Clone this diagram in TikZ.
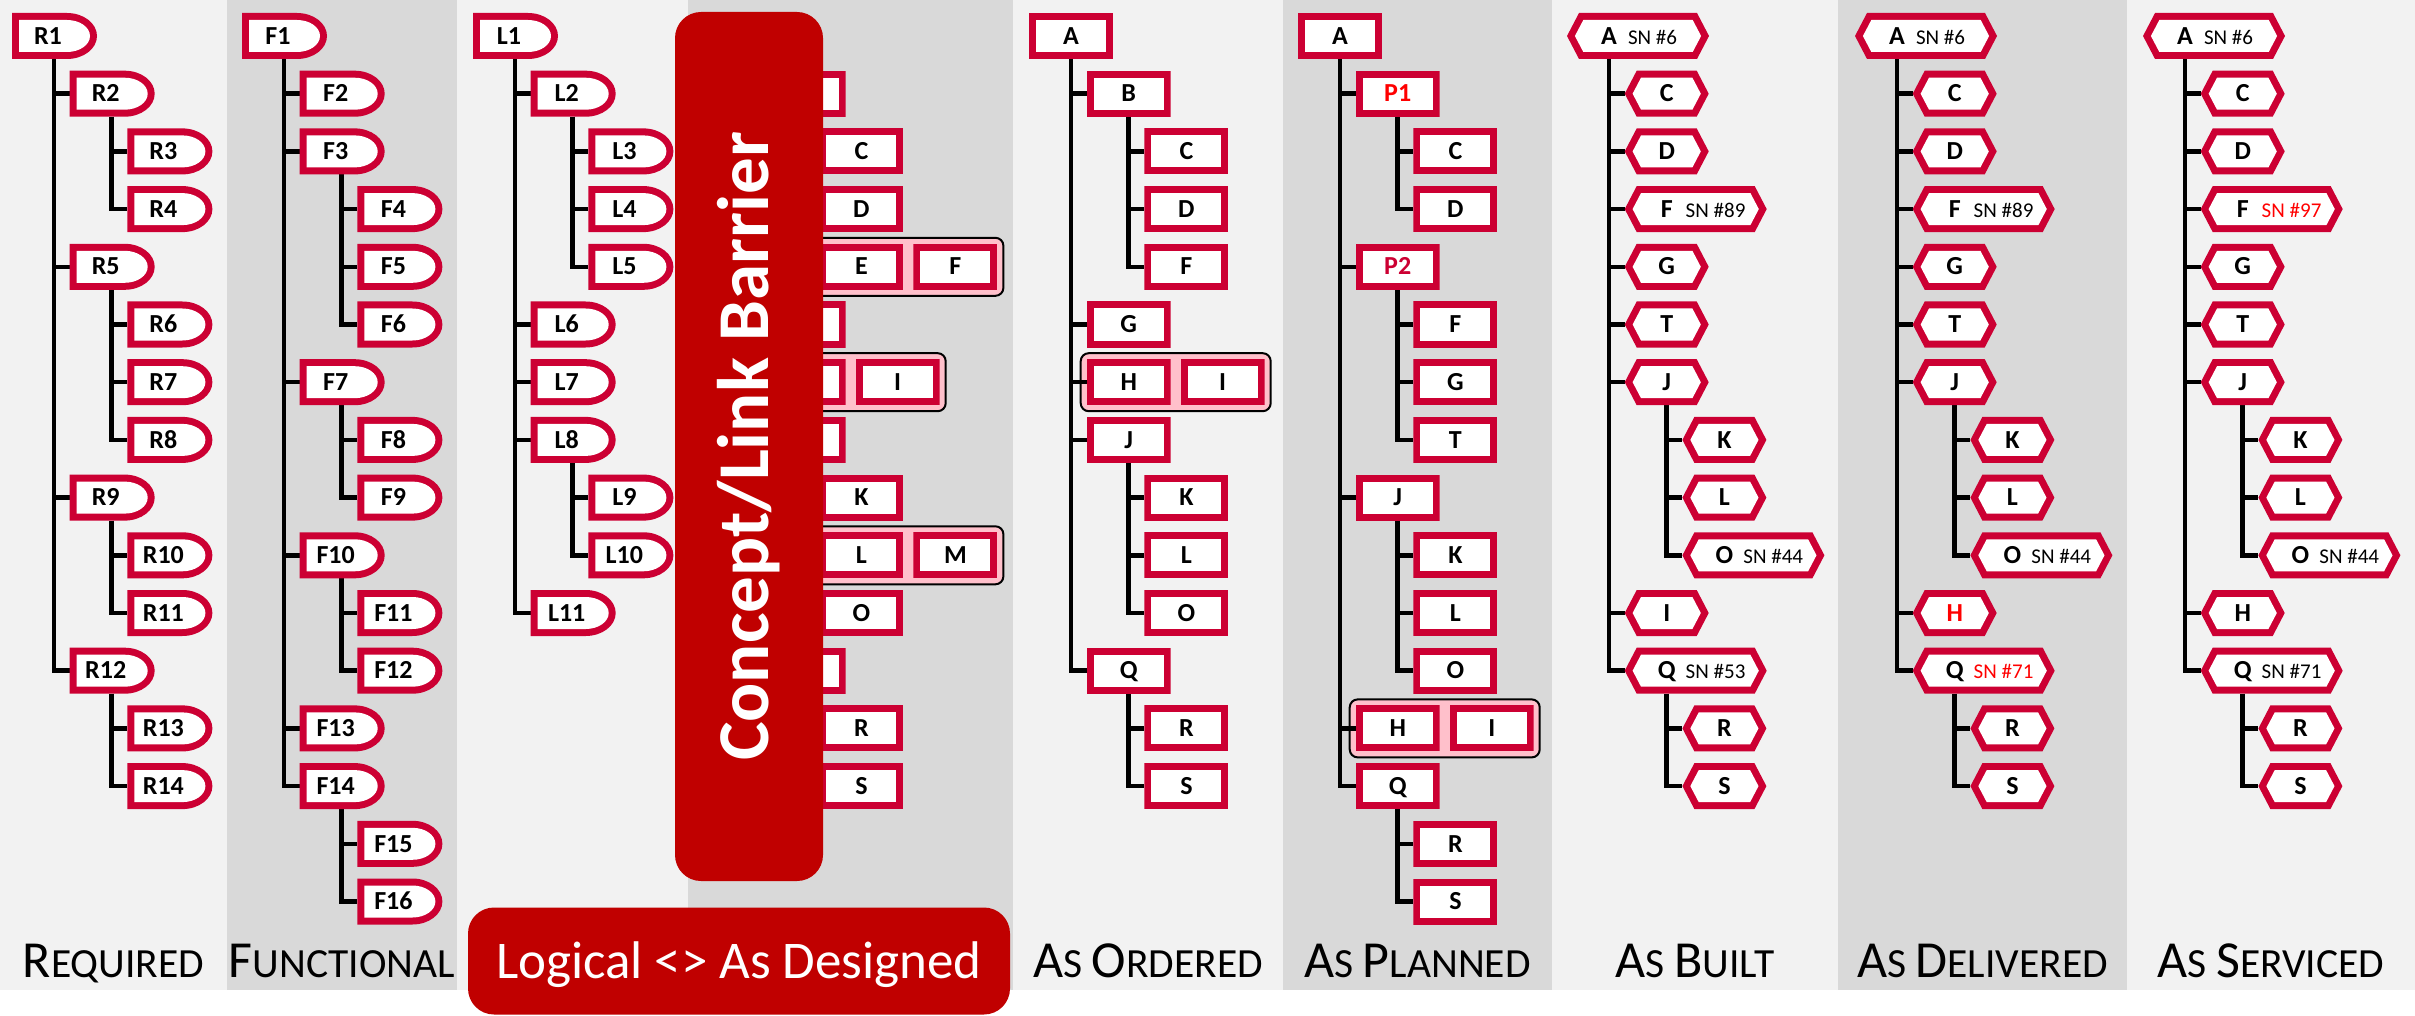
\documentclass[tikz,border=0pt]{standalone}
\usepackage{fontspec}
\setmainfont{Carlito}
\usetikzlibrary{positioning}
\definecolor{bred}{RGB}{204,0,51}
\definecolor{barred}{RGB}{192,0,0}
\definecolor{lband}{RGB}{242,242,242}
\definecolor{dband}{RGB}{217,217,217}
\definecolor{grpfill}{RGB}{255,192,203}
\definecolor{hot}{RGB}{255,0,0}
\newcommand\lf{\fontsize{26}{26}\selectfont\bfseries}
\newcommand\snf{\fontsize{21}{21}\selectfont\mdseries}
\newcommand\dtx[1]{\hbox to 72pt{\hss#1\hss}\kern13pt}
\newcommand\wtx[2]{\hbox to 142pt{\hbox to 84pt{\hss#1\hss}\kern-23pt{\snf#2}\hss}}
\newcommand\lbig[1]{{\fontsize{52}{52}\selectfont#1}}
\newcommand\lsmall[1]{{\fontsize{41.5}{41.5}\selectfont#1}}
\newcommand\pb{path picture bounding box}
\newcommand\tr[2]{\foreach \cc in {#2}{\draw[conn] ([xshift=42pt]#1.south west) |- (\cc.west);}}
\pgfdeclarelayer{bands}
\pgfdeclarelayer{grp}
\pgfdeclarelayer{wires}
\pgfdeclarelayer{front}
\pgfsetlayers{bands,grp,wires,main,front}
\tikzset{
  box/.style={inner sep=0pt, outer sep=0pt, minimum height=46pt, text height=16.4pt, text depth=0pt, font=\lf, anchor=west},
  dnode/.style={box, minimum width=85pt, path picture={
     \fill[bred] (\pb.south west) -- (\pb.north west) -- ([xshift=-30pt]\pb.north east) arc[start angle=90,end angle=-90,x radius=30pt,y radius=23pt] -- cycle;
     \fill[white] ([shift={(7pt,7pt)}]\pb.south west) -- ([shift={(7pt,-7pt)}]\pb.north west) -- ([shift={(-30pt,-7pt)}]\pb.north east) arc[start angle=90,end angle=-90,x radius=23pt,y radius=16pt] -- cycle;}},
  rnode/.style={box, minimum width=84pt, path picture={
     \fill[bred] (\pb.south west) rectangle (\pb.north east);
     \fill[white] ([shift={(7pt,7pt)}]\pb.south west) rectangle ([shift={(-7pt,-7pt)}]\pb.north east);}},
  hnode/.style={box, minimum width=84pt, path picture={
     \fill[bred] (\pb.west) -- ([xshift=12pt]\pb.north west) -- ([xshift=-12pt]\pb.north east) -- (\pb.east) -- ([xshift=-12pt]\pb.south east) -- ([xshift=12pt]\pb.south west) -- cycle;
     \fill[white] ([xshift=7.9pt]\pb.west) -- ([shift={(16.3pt,-7pt)}]\pb.north west) -- ([shift={(-16.3pt,-7pt)}]\pb.north east) -- ([xshift=-7.9pt]\pb.east) -- ([shift={(-16.3pt,7pt)}]\pb.south east) -- ([shift={(16.3pt,7pt)}]\pb.south west) -- cycle;}},
  wnode/.style={hnode, minimum width=142pt},
  conn/.style={line width=4.5pt, black},
  grp/.style={fill=grpfill, draw=black, line width=2pt, rounded corners=8pt},
  banner/.style={fill=barred, text=white, inner sep=0pt, rounded corners=26pt},
  lab/.style={anchor=base, inner sep=0pt}
}
\begin{document}
\begin{tikzpicture}[x=1pt,y=1pt]
\useasboundingbox (0,0) rectangle (2415,-1016);
\begin{pgfonlayer}{bands}
\fill[white] (0,0) rectangle (2415,-1016);
\fill[lband] (0,0) rectangle (227,-990);
\fill[dband] (227,0) rectangle (457,-990);
\fill[lband] (457,0) rectangle (688,-990);
\fill[dband] (688,0) rectangle (1013,-990);
\fill[lband] (1013,0) rectangle (1283,-990);
\fill[dband] (1283,0) rectangle (1552,-990);
\fill[lband] (1552,0) rectangle (1838,-990);
\fill[dband] (1838,0) rectangle (2127,-990);
\fill[lband] (2127,0) rectangle (2415,-990);
\end{pgfonlayer}

% Required
\begin{scope}[x=57.7pt,y=57.7pt,shift={(12pt,-36pt)}]
\node[dnode] (R1) at (0,0) {\dtx{R1}};
\node[dnode] (R2) at (1,-1) {\dtx{R2}};
\node[dnode] (R3) at (2,-2) {\dtx{R3}};
\node[dnode] (R4) at (2,-3) {\dtx{R4}};
\node[dnode] (R5) at (1,-4) {\dtx{R5}};
\node[dnode] (R6) at (2,-5) {\dtx{R6}};
\node[dnode] (R7) at (2,-6) {\dtx{R7}};
\node[dnode] (R8) at (2,-7) {\dtx{R8}};
\node[dnode] (R9) at (1,-8) {\dtx{R9}};
\node[dnode] (R10) at (2,-9) {\dtx{R10}};
\node[dnode] (R11) at (2,-10) {\dtx{R11}};
\node[dnode] (R12) at (1,-11) {\dtx{R12}};
\node[dnode] (R13) at (2,-12) {\dtx{R13}};
\node[dnode] (R14) at (2,-13) {\dtx{R14}};
\end{scope}

% Functional
\begin{scope}[x=57.7pt,y=57.7pt,shift={(242pt,-36pt)}]
\node[dnode] (F1) at (0,0) {\dtx{F1}};
\node[dnode] (F2) at (1,-1) {\dtx{F2}};
\node[dnode] (F3) at (1,-2) {\dtx{F3}};
\node[dnode] (F4) at (2,-3) {\dtx{F4}};
\node[dnode] (F5) at (2,-4) {\dtx{F5}};
\node[dnode] (F6) at (2,-5) {\dtx{F6}};
\node[dnode] (F7) at (1,-6) {\dtx{F7}};
\node[dnode] (F8) at (2,-7) {\dtx{F8}};
\node[dnode] (F9) at (2,-8) {\dtx{F9}};
\node[dnode] (F10) at (1,-9) {\dtx{F10}};
\node[dnode] (F11) at (2,-10) {\dtx{F11}};
\node[dnode] (F12) at (2,-11) {\dtx{F12}};
\node[dnode] (F13) at (1,-12) {\dtx{F13}};
\node[dnode] (F14) at (1,-13) {\dtx{F14}};
\node[dnode] (F15) at (2,-14) {\dtx{F15}};
\node[dnode] (F16) at (2,-15) {\dtx{F16}};
\end{scope}

% Logical
\begin{scope}[x=57.7pt,y=57.7pt,shift={(473pt,-36pt)}]
\node[dnode] (L1) at (0,0) {\dtx{L1}};
\node[dnode] (L2) at (1,-1) {\dtx{L2}};
\node[dnode] (L3) at (2,-2) {\dtx{L3}};
\node[dnode] (L4) at (2,-3) {\dtx{L4}};
\node[dnode] (L5) at (2,-4) {\dtx{L5}};
\node[dnode] (L6) at (1,-5) {\dtx{L6}};
\node[dnode] (L7) at (1,-6) {\dtx{L7}};
\node[dnode] (L8) at (1,-7) {\dtx{L8}};
\node[dnode] (L9) at (2,-8) {\dtx{L9}};
\node[dnode] (L10) at (2,-9) {\dtx{L10}};
\node[dnode] (L11) at (1,-10) {\dtx{L11}};
\end{scope}

% As Designed (mostly behind the barrier)
\begin{scope}[x=57.7pt,y=57.7pt,shift={(704pt,-36pt)}]
\node[rnode] (dA) at (0,0) {A};
\node[rnode] (dB) at (1,-1) {B};
\node[rnode] (dC) at (2,-2) {C};
\node[rnode] (dD) at (2,-3) {D};
\node[rnode] (dE) at (2,-4) {E};
\node[rnode, right=10pt of dE] (dF) {F};
\node[rnode] (dG) at (1,-5) {G};
\node[rnode] (dH) at (1,-6) {H};
\node[rnode, right=10pt of dH] (dI) {I};
\node[rnode] (dJ) at (1,-7) {J};
\node[rnode] (dK) at (2,-8) {K};
\node[rnode] (dL) at (2,-9) {L};
\node[rnode, right=10pt of dL] (dM) {M};
\node[rnode] (dO) at (2,-10) {O};
\node[rnode] (dQ) at (1,-11) {Q};
\node[rnode] (dR) at (2,-12) {R};
\node[rnode] (dS) at (2,-13) {S};
\end{scope}

% As Ordered
\begin{scope}[x=57.7pt,y=57.7pt,shift={(1029pt,-36pt)}]
\node[rnode] (oA) at (0,0) {A};
\node[rnode] (oB) at (1,-1) {B};
\node[rnode] (oC) at (2,-2) {C};
\node[rnode] (oD) at (2,-3) {D};
\node[rnode] (oF) at (2,-4) {F};
\node[rnode] (oG) at (1,-5) {G};
\node[rnode] (oH) at (1,-6) {H};
\node[rnode, right=10pt of oH] (oI) {I};
\node[rnode] (oJ) at (1,-7) {J};
\node[rnode] (oK) at (2,-8) {K};
\node[rnode] (oL) at (2,-9) {L};
\node[rnode] (oO) at (2,-10) {O};
\node[rnode] (oQ) at (1,-11) {Q};
\node[rnode] (oR) at (2,-12) {R};
\node[rnode] (oS) at (2,-13) {S};
\end{scope}

% As Planned
\begin{scope}[x=57.7pt,y=57.7pt,shift={(1298pt,-36pt)}]
\node[rnode] (pA) at (0,0) {A};
\node[rnode] (pP1) at (1,-1) {\color{hot}P1};
\node[rnode] (pC) at (2,-2) {C};
\node[rnode] (pD) at (2,-3) {D};
\node[rnode] (pP2) at (1,-4) {\color{bred}P2};
\node[rnode] (pF) at (2,-5) {F};
\node[rnode] (pG) at (2,-6) {G};
\node[rnode] (pT) at (2,-7) {T};
\node[rnode] (pJ) at (1,-8) {J};
\node[rnode] (pK) at (2,-9) {K};
\node[rnode] (pL) at (2,-10) {L};
\node[rnode] (pO) at (2,-11) {O};
\node[rnode] (pH) at (1,-12) {H};
\node[rnode, right=10pt of pH] (pI) {I};
\node[rnode] (pQ) at (1,-13) {Q};
\node[rnode] (pR) at (2,-14) {R};
\node[rnode] (pS) at (2,-15) {S};
\end{scope}

% As Built
\begin{scope}[x=57.7pt,y=57.7pt,shift={(1567pt,-36pt)}]
\node[wnode] (bA) at (0,0) {\wtx{A}{SN \#6}};
\node[hnode] (bC) at (1,-1) {C};
\node[hnode] (bD) at (1,-2) {D};
\node[wnode] (bF) at (1,-3) {\wtx{F}{SN \#89}};
\node[hnode] (bG) at (1,-4) {G};
\node[hnode] (bT) at (1,-5) {T};
\node[hnode] (bJ) at (1,-6) {J};
\node[hnode] (bK) at (2,-7) {K};
\node[hnode] (bL) at (2,-8) {L};
\node[wnode] (bO) at (2,-9) {\wtx{O}{SN \#44}};
\node[hnode] (bI) at (1,-10) {I};
\node[wnode] (bQ) at (1,-11) {\wtx{Q}{SN \#53}};
\node[hnode] (bR) at (2,-12) {R};
\node[hnode] (bS) at (2,-13) {S};
\end{scope}

% As Delivered
\begin{scope}[x=57.7pt,y=57.7pt,shift={(1855pt,-36pt)}]
\node[wnode] (lA) at (0,0) {\wtx{A}{SN \#6}};
\node[hnode] (lC) at (1,-1) {C};
\node[hnode] (lD) at (1,-2) {D};
\node[wnode] (lF) at (1,-3) {\wtx{F}{SN \#89}};
\node[hnode] (lG) at (1,-4) {G};
\node[hnode] (lT) at (1,-5) {T};
\node[hnode] (lJ) at (1,-6) {J};
\node[hnode] (lK) at (2,-7) {K};
\node[hnode] (lL) at (2,-8) {L};
\node[wnode] (lO) at (2,-9) {\wtx{O}{SN \#44}};
\node[hnode] (lH) at (1,-10) {\color{hot}H};
\node[wnode] (lQ) at (1,-11) {\wtx{Q}{\color{hot}SN \#71}};
\node[hnode] (lR) at (2,-12) {R};
\node[hnode] (lS) at (2,-13) {S};
\end{scope}

% As Serviced
\begin{scope}[x=57.7pt,y=57.7pt,shift={(2143pt,-36pt)}]
\node[wnode] (sA) at (0,0) {\wtx{A}{SN \#6}};
\node[hnode] (sC) at (1,-1) {C};
\node[hnode] (sD) at (1,-2) {D};
\node[wnode] (sF) at (1,-3) {\wtx{F}{\color{hot}SN \#97}};
\node[hnode] (sG) at (1,-4) {G};
\node[hnode] (sT) at (1,-5) {T};
\node[hnode] (sJ) at (1,-6) {J};
\node[hnode] (sK) at (2,-7) {K};
\node[hnode] (sL) at (2,-8) {L};
\node[wnode] (sO) at (2,-9) {\wtx{O}{SN \#44}};
\node[hnode] (sH) at (1,-10) {H};
\node[wnode] (sQ) at (1,-11) {\wtx{Q}{SN \#71}};
\node[hnode] (sR) at (2,-12) {R};
\node[hnode] (sS) at (2,-13) {S};
\end{scope}

\begin{pgfonlayer}{grp}
\draw[grp] ([shift={(-6pt,6pt)}]dE.north west) rectangle ([shift={(6pt,-6pt)}]dF.south east);
\draw[grp] ([shift={(-6pt,6pt)}]dH.north west) rectangle ([shift={(6pt,-6pt)}]dI.south east);
\draw[grp] ([shift={(-6pt,6pt)}]dL.north west) rectangle ([shift={(6pt,-6pt)}]dM.south east);
\draw[grp] ([shift={(-6pt,6pt)}]oH.north west) rectangle ([shift={(6pt,-6pt)}]oI.south east);
\draw[grp] ([shift={(-6pt,6pt)}]pH.north west) rectangle ([shift={(6pt,-6pt)}]pI.south east);
\end{pgfonlayer}

\begin{pgfonlayer}{wires}
\tr{R1}{R2,R5,R9,R12}
\tr{R2}{R3,R4}
\tr{R5}{R6,R7,R8}
\tr{R9}{R10,R11}
\tr{R12}{R13,R14}
\tr{F1}{F2,F3,F7,F10,F13,F14}
\tr{F3}{F4,F5,F6}
\tr{F7}{F8,F9}
\tr{F10}{F11,F12}
\tr{F14}{F15,F16}
\tr{L1}{L2,L6,L7,L8,L11}
\tr{L2}{L3,L4,L5}
\tr{L8}{L9,L10}
\tr{dA}{dB,dG,dH,dJ,dQ}
\tr{dB}{dC,dD,dE}
\tr{dJ}{dK,dL,dO}
\tr{dQ}{dR,dS}
\tr{oA}{oB,oG,oH,oJ,oQ}
\tr{oB}{oC,oD,oF}
\tr{oJ}{oK,oL,oO}
\tr{oQ}{oR,oS}
\tr{pA}{pP1,pP2,pJ,pH,pQ}
\tr{pP1}{pC,pD}
\tr{pP2}{pF,pG,pT}
\tr{pJ}{pK,pL,pO}
\tr{pQ}{pR,pS}
\tr{bA}{bC,bD,bF,bG,bT,bJ,bI,bQ}
\tr{bJ}{bK,bL,bO}
\tr{bQ}{bR,bS}
\tr{lA}{lC,lD,lF,lG,lT,lJ,lH,lQ}
\tr{lJ}{lK,lL,lO}
\tr{lQ}{lR,lS}
\tr{sA}{sC,sD,sF,sG,sT,sJ,sH,sQ}
\tr{sJ}{sK,sL,sO}
\tr{sQ}{sR,sS}
\end{pgfonlayer}

\begin{pgfonlayer}{front}
\node[banner, rotate=90, minimum width=869pt, minimum height=148pt, font=\fontsize{73}{73}\selectfont\bfseries] (barrier) at (749,-446.5) {Concept/Link Barrier};
\node[banner, minimum width=542pt, minimum height=107pt, text height=34pt, text depth=0pt, font=\fontsize{53}{53}\selectfont] (logical) at (739,-961) {Logical <> As Designed};
\end{pgfonlayer}

\node[lab] (tReq) at (113.5,-977) {\lbig{R}\lsmall{EQUIRED}};
\node[lab] (tFun) at (342,-977) {\lbig{F}\lsmall{UNCTIONAL}};
\node[lab] (tOrd) at (1148,-977) {\lbig{A}\lsmall{S }\lbig{O}\lsmall{RDERED}};
\node[lab] (tPla) at (1417.5,-977) {\lbig{A}\lsmall{S }\lbig{P}\lsmall{LANNED}};
\node[lab] (tBui) at (1695,-977) {\lbig{A}\lsmall{S }\lbig{B}\lsmall{UILT}};
\node[lab] (tDel) at (1982.5,-977) {\lbig{A}\lsmall{S }\lbig{D}\lsmall{ELIVERED}};
\node[lab] (tSer) at (2271,-977) {\lbig{A}\lsmall{S }\lbig{S}\lsmall{ERVICED}};
\end{tikzpicture}
\end{document}
